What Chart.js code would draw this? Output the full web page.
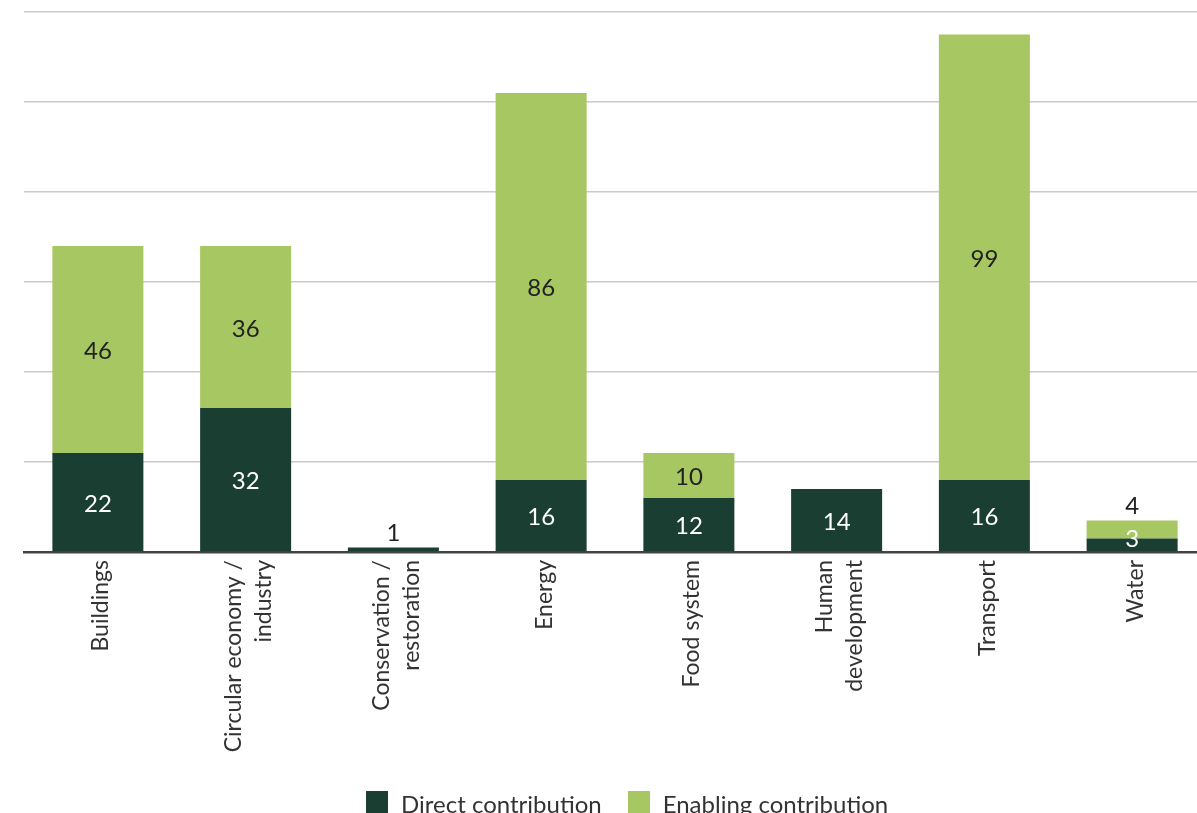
<!DOCTYPE html>
<html lang="en">
<head>
  <meta charset="UTF-8" />
  <title>Direct and enabling contribution by sector</title>
  <script src="https://cdn.jsdelivr.net/npm/chart.js"></script>
  <style>
    body {
      margin: 0;
      background: #fff;
      overflow: hidden;
      font-family: Lato, sans-serif;
    }
    #wrap {
      position: absolute;
      left: 0;
      top: 0;
      width: 1210px;
      height: 813px;
    }
    .legend {
      position: absolute;
      left: 366px;
      top: 791px;
      display: flex;
      align-items: flex-start;
      font-size: 24px;
      color: #333;
      line-height: 26px;
    }
    .legend span.box {
      display: inline-block;
      width: 22px;
      height: 22px;
      margin-right: 13px;
    }
    .legend .item {
      display: flex;
      align-items: flex-start;
      margin-right: 26px;
    }
  </style>
</head>
<body>
  <div id="wrap">
    <canvas id="chart" width="1210" height="813"></canvas>
  </div>
  <div class="legend">
    <div class="item"><span class="box" style="background:#1b3e33"></span>Direct contribution</div>
    <div class="item"><span class="box" style="background:#a7c762"></span>Enabling contribution</div>
  </div>

  <script>
    // sectors (multi-line labels)
    const categories = [
      ['Buildings'],
      ['Circular economy /', 'industry'],
      ['Conservation /', 'restoration'],
      ['Energy'],
      ['Food system'],
      ['Human', 'development'],
      ['Transport'],
      ['Water']
    ];
    const directValues = [22, 32, 1, 16, 12, 14, 16, 3];
    const enablingValues = [46, 36, 0, 86, 10, 0, 99, 4];
    const yMax = 120;
    const yStep = 20;

    const DARK = '#1b3e33';
    const LIGHT = '#a7c762';

    // value labels on each segment
    const segmentLabels = {
      id: 'segmentLabels',
      afterDatasetsDraw(chart) {
        const ctx = chart.ctx;
        ctx.save();
        ctx.font = '24px Lato';
        ctx.textAlign = 'center';
        chart.data.datasets.forEach((ds, di) => {
          const meta = chart.getDatasetMeta(di);
          meta.data.forEach((bar, i) => {
            const v = ds.data[i];
            if (!v) return;
            const top = Math.min(bar.y, bar.base);
            const h = Math.abs(bar.base - bar.y);
            const above = chart.data.datasets.slice(di + 1).every(d => !d.data[i]);
            if (above && h < 20) {
              ctx.fillStyle = '#222';
              ctx.textBaseline = 'alphabetic';
              ctx.fillText(v, bar.x, top - 7);
            } else if (h < 20) {
              // thin segment with something stacked on top
              ctx.fillStyle = di === 0 ? '#fff' : '#222';
              ctx.textBaseline = 'middle';
              ctx.fillText(v, bar.x, top + 1);
            } else {
              ctx.fillStyle = di === 0 ? '#fff' : '#222';
              ctx.textBaseline = 'middle';
              ctx.fillText(v, bar.x, top + h / 2 + 2);
            }
          });
        });
        ctx.restore();
      }
    };

    // rotated category labels, lines centred on the tick
    const rotatedLabels = {
      id: 'rotatedLabels',
      afterDraw(chart) {
        const ctx = chart.ctx;
        const xs = chart.scales.x;
        const y0 = chart.chartArea.bottom + 8;
        ctx.save();
        ctx.font = '23px Lato';
        ctx.fillStyle = '#333';
        ctx.textAlign = 'right';
        ctx.textBaseline = 'middle';
        categories.forEach((lines, i) => {
          const x = xs.getPixelForTick(i);
          lines.forEach((line, j) => {
            const dx = (j - (lines.length - 1) / 2) * 30 + 3;
            ctx.save();
            ctx.translate(x + dx, y0);
            ctx.rotate(-Math.PI / 2);
            ctx.fillText(line, 0, 0);
            ctx.restore();
          });
        });
        ctx.restore();
      }
    };

    new Chart(document.getElementById('chart'), {
      type: 'bar',
      data: {
        labels: categories,
        datasets: [
          { label: 'Direct contribution', data: directValues, backgroundColor: DARK },
          { label: 'Enabling contribution', data: enablingValues, backgroundColor: LIGHT }
        ]
      },
      options: {
        responsive: false,
        animation: false,
        layout: { padding: { left: 24, right: 4, top: 12, bottom: 261 } },
        datasets: { bar: { barPercentage: 0.616, categoryPercentage: 1 } },
        plugins: {
          legend: { display: false },
          tooltip: { enabled: false }
        },
        scales: {
          x: {
            stacked: true,
            grid: { display: false, drawTicks: false },
            border: { display: true, color: '#444', width: 2.5 },
            ticks: { display: false }
          },
          y: {
            stacked: true,
            min: 0,
            max: yMax,
            ticks: { display: false, stepSize: yStep },
            grid: {
              drawTicks: false,
              color: c => (c.tick && c.tick.value === 0 ? 'rgba(0,0,0,0)' : '#cacaca'),
              lineWidth: 1.5
            },
            border: { display: false }
          }
        }
      },
      plugins: [segmentLabels, rotatedLabels]
    });
  </script>
</body>
</html>
